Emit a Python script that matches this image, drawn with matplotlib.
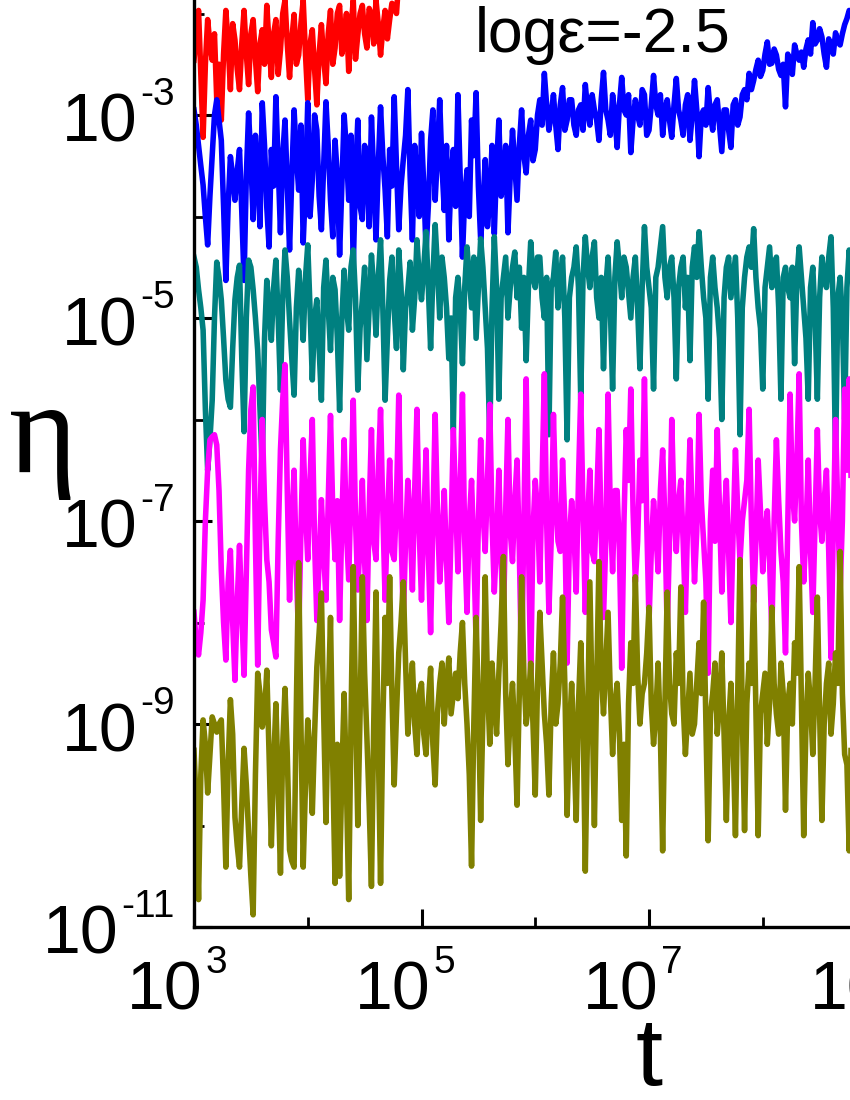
import numpy as np
import matplotlib.pyplot as plt
from matplotlib.ticker import FixedLocator, NullFormatter

plt.rcParams['font.family'] = ['Liberation Sans', 'DejaVu Sans']

# log10(t) sampling grid, one point every 0.02 decade
log_t = np.linspace(3.0, 8.92, 297)

# log10(eta), one list per curve
red = [-2.46, -2.20, -1.97, -2.60, -3.22, -2.50, -2.06, -2.30, -2.46, -2.20,
       -2.85, -2.50, -3.05, -2.40, -1.97, -2.30, -2.75, -2.10, -2.26, -2.55,
       -2.75, -2.30, -1.97, -2.40, -2.70, -2.20, -2.06, -2.45, -2.77, -2.30,
       -2.16, -2.50, -1.92, -2.30, -2.63, -2.20, -2.06, -2.60, -2.36, -2.00,
       -1.87, -2.30, -2.63, -2.25, -2.01, -2.50, -2.41, -2.10, -1.87, -2.40,
       -2.85, -2.30, -2.16, -2.55, -2.90, -2.40, -2.11, -2.45, -2.69, -2.20,
       -1.97, -2.50, -2.34, -2.00, -1.92, -2.40, -2.26, -2.00, -2.57, -2.15,
       -1.87, -2.45, -2.21, -2.00, -1.92, -2.20, -2.34, -1.95, -2.01, -2.30,
       -1.87, -2.10, -2.41, -2.15, -1.97, -2.25, -2.06, -1.90, -1.92, -2.00,
       -1.67, -1.60, -1.50]

blue = [-2.95, -3.10, -3.30, -3.50, -3.69, -4.00, -4.28, -3.80, -3.39, -3.00,
        -2.85, -3.05, -3.25, -3.90, -4.63, -3.90, -3.41, -3.60, -3.84, -3.55,
        -3.34, -3.95, -4.63, -3.60, -2.98, -3.45, -4.03, -3.20, -3.54, -4.10,
        -2.88, -3.30, -3.91, -4.30, -3.34, -3.70, -2.82, -3.50, -4.16, -3.40,
        -3.05, -3.70, -4.33, -3.60, -2.95, -3.40, -3.74, -3.10, -4.26, -3.70,
        -2.88, -4.00, -3.64, -3.00, -3.15, -3.80, -4.13, -3.50, -2.87, -3.30,
        -3.84, -4.20, -3.25, -3.60, -4.38, -3.70, -3.00, -3.35, -3.84, -3.20,
        -4.50, -3.60, -3.05, -3.90, -4.03, -3.30, -3.44, -4.10, -3.02, -3.60,
        -4.23, -3.50, -2.92, -3.40, -3.74, -4.20, -3.34, -3.70, -2.82, -3.50,
        -4.13, -3.70, -3.44, -3.20, -2.75, -3.60, -4.23, -3.30, -3.64, -4.00,
        -3.18, -3.70, -4.33, -3.90, -3.25, -2.95, -3.84, -3.40, -2.85, -3.50,
        -3.94, -3.30, -4.23, -3.60, -3.34, -3.90, -2.80, -3.60, -4.40, -3.80,
        -3.54, -4.00, -3.05, -3.40, -2.78, -3.70, -4.23, -3.90, -3.44, -4.10,
        -3.84, -3.30, -4.17, -3.50, -3.05, -3.80, -3.64, -3.30, -4.16, -3.60,
        -3.15, -3.50, -3.84, -3.30, -2.95, -3.40, -3.57, -3.20, -3.05, -3.45,
        -3.34, -3.00, -2.85, -3.10, -2.59, -2.90, -3.15, -3.00, -2.80, -3.10,
        -3.34, -2.90, -2.73, -3.15, -3.05, -2.85, -2.85, -3.10, -3.20, -2.95,
        -2.90, -3.15, -2.70, -2.95, -3.10, -2.80, -2.95, -3.05, -3.25, -2.85,
        -2.58, -2.95, -3.05, -3.20, -2.80, -3.00, -3.32, -2.90, -2.63, -2.95,
        -3.00, -2.80, -3.37, -3.05, -2.85, -3.00, -3.10, -2.75, -2.80, -3.20,
        -3.15, -2.90, -2.61, -2.90, -3.00, -2.80, -3.20, -2.95, -2.85, -3.05,
        -3.22, -2.90, -2.64, -2.95, -3.05, -3.20, -2.90, -2.80, -3.25, -3.00,
        -2.66, -2.95, -3.41, -3.00, -2.95, -3.10, -2.73, -3.00, -3.15, -2.90,
        -2.85, -3.10, -3.36, -2.95, -2.95, -3.15, -3.32, -2.90, -2.85, -3.10,
        -3.02, -2.80, -2.75, -2.85, -2.59, -2.75, -2.66, -2.55, -2.46, -2.62,
        -2.56, -2.40, -2.28, -2.50, -2.49, -2.35, -2.41, -2.55, -2.61, -2.50,
        -2.92, -2.40, -2.46, -2.60, -2.31, -2.40, -2.46, -2.38, -2.53, -2.35,
        -2.26, -2.40, -2.09, -2.30, -2.26, -2.15, -2.23, -2.40, -2.53, -2.25,
        -2.31, -2.40, -2.19, -2.28, -2.31, -2.20, -2.11, -2.05, -1.97, -2.02,
        -1.92, -1.95, -1.87, -1.85, -1.82, -1.83, -1.80]

teal = [-4.40, -4.50, -4.72, -4.90, -5.12, -5.90, -6.50, -6.20, -5.81, -5.00,
        -4.45, -4.60, -4.82, -5.20, -5.61, -5.80, -5.88, -5.30, -4.82, -4.60,
        -4.48, -5.40, -6.12, -5.00, -4.43, -4.50, -4.72, -5.00, -5.32, -5.90,
        -6.47, -5.20, -4.63, -4.90, -5.22, -4.70, -4.43, -5.00, -5.71, -4.80,
        -4.33, -4.60, -5.02, -5.40, -5.76, -4.90, -4.53, -4.80, -5.22, -4.60,
        -4.28, -4.90, -5.61, -5.00, -4.82, -5.30, -5.81, -4.70, -4.43, -4.90,
        -5.32, -4.60, -4.72, -5.20, -5.91, -5.00, -4.53, -4.90, -5.12, -4.50,
        -4.33, -4.80, -5.71, -5.10, -4.82, -4.50, -5.41, -4.90, -4.38, -4.70,
        -5.17, -4.60, -4.23, -4.90, -5.81, -5.20, -4.63, -4.40, -4.92, -5.30,
        -4.33, -4.70, -5.51, -4.90, -4.72, -4.45, -5.12, -4.80, -4.23, -4.60,
        -4.82, -4.50, -4.15, -4.70, -5.30, -4.60, -4.08, -4.50, -5.00, -4.40,
        -4.60, -4.90, -5.40, -5.00, -6.10, -4.80, -4.60, -4.90, -5.45, -4.70,
        -4.30, -4.60, -4.90, -4.40, -5.20, -4.70, -4.22, -4.50, -4.90, -5.30,
        -6.20, -4.90, -4.20, -4.70, -5.80, -4.80, -4.60, -4.40, -5.00, -4.70,
        -4.50, -4.35, -4.80, -4.50, -5.10, -4.60, -5.42, -4.70, -4.25, -4.60,
        -4.70, -4.40, -4.40, -4.80, -5.00, -4.60, -6.15, -4.70, -4.60, -4.35,
        -4.90, -4.60, -4.40, -5.00, -6.20, -4.80, -4.60, -4.50, -4.30, -4.70,
        -5.80, -4.60, -4.20, -4.50, -4.70, -4.40, -4.25, -4.80, -5.00, -4.60,
        -5.50, -4.70, -4.40, -4.90, -5.70, -4.60, -4.25, -4.50, -4.80, -4.40,
        -4.50, -4.75, -5.00, -4.60, -4.40, -4.90, -5.50, -4.70, -4.10, -4.50,
        -4.70, -4.90, -5.70, -4.60, -4.50, -4.30, -4.10, -4.60, -4.80, -4.50,
        -4.40, -4.80, -5.60, -4.70, -4.50, -4.40, -4.90, -4.60, -5.42, -4.50,
        -4.30, -4.60, -4.15, -4.50, -4.80, -5.00, -5.80, -4.60, -4.40, -4.70,
        -4.90, -5.20, -6.00, -4.80, -4.50, -4.40, -4.80, -4.60, -4.40, -5.00,
        -6.15, -4.90, -4.60, -4.40, -4.30, -4.50, -4.12, -4.60, -4.90, -5.10,
        -5.70, -4.70, -4.50, -4.30, -4.70, -4.50, -4.40, -4.90, -5.80, -4.60,
        -4.50, -4.70, -4.80, -4.50, -5.45, -4.60, -4.30, -4.60, -4.90, -5.20,
        -5.80, -4.70, -4.50, -5.00, -5.80, -4.80, -4.40, -4.60, -4.70, -4.40,
        -4.20, -4.90, -6.40, -4.80, -4.60, -5.00, -6.00, -4.70, -4.33, -4.60,
        -4.90, -4.50, -4.50, -4.80, -5.20, -4.70, -4.60]

magenta = [-7.90, -8.20, -8.32, -8.10, -7.78, -7.00, -6.50, -6.20, -6.17, -6.15,
           -6.25, -6.70, -7.48, -8.00, -8.37, -7.60, -7.29, -8.00, -8.57, -7.80,
           -7.24, -7.90, -8.52, -7.50, -6.50, -5.90, -5.68, -7.20, -8.42, -7.00,
           -6.00, -6.80, -7.38, -7.60, -8.07, -8.20, -8.34, -7.20, -6.30, -5.80,
           -5.46, -6.70, -7.78, -7.00, -6.50, -7.50, -8.17, -7.10, -6.20, -6.90,
           -7.38, -6.60, -6.00, -7.20, -7.98, -7.40, -6.79, -7.30, -7.78, -6.80,
           -5.96, -6.90, -7.38, -6.80, -7.98, -7.00, -6.20, -7.10, -7.58, -6.70,
           -5.81, -7.00, -7.68, -7.20, -6.60, -7.40, -7.98, -6.90, -6.10, -7.20,
           -7.38, -6.50, -5.90, -6.90, -7.78, -7.00, -6.40, -7.30, -7.38, -6.80,
           -5.76, -7.10, -7.98, -7.20, -6.60, -7.00, -7.68, -6.70, -5.90, -7.10,
           -7.78, -7.00, -6.30, -7.30, -8.10, -7.00, -5.95, -6.90, -7.60, -7.20,
           -6.70, -7.40, -8.00, -7.10, -6.10, -6.80, -7.50, -6.70, -5.75, -7.20,
           -7.90, -7.00, -6.60, -7.30, -8.20, -7.00, -6.20, -6.90, -7.30, -6.60,
           -5.85, -7.00, -7.70, -7.20, -6.50, -7.40, -8.00, -6.90, -6.00, -7.10,
           -7.40, -6.80, -6.40, -7.30, -8.50, -7.00, -5.60, -7.20, -8.55, -7.10,
           -6.60, -6.90, -7.60, -6.60, -5.55, -7.00, -7.90, -7.20, -5.95, -6.80,
           -7.20, -7.30, -6.40, -7.00, -8.40, -7.20, -6.80, -7.10, -7.70, -6.60,
           -5.75, -6.90, -7.90, -7.00, -6.50, -7.30, -7.40, -6.80, -6.10, -7.10,
           -7.95, -7.20, -5.75, -6.90, -7.50, -6.70, -6.70, -7.30, -8.45, -7.00,
           -6.10, -6.60, -5.70, -6.90, -7.60, -7.20, -6.40, -6.80, -5.60, -7.00,
           -8.00, -7.30, -6.80, -7.10, -7.50, -6.70, -6.30, -7.00, -8.10, -7.20,
           -6.00, -6.90, -7.30, -6.80, -6.60, -7.20, -7.90, -7.00, -6.20, -6.90,
           -7.60, -7.10, -5.95, -6.80, -7.20, -7.60, -8.50, -7.00, -6.50, -7.20,
           -6.10, -6.90, -7.70, -7.00, -6.60, -7.30, -8.00, -7.10, -6.30, -6.90,
           -7.40, -7.00, -6.80, -6.60, -5.90, -7.00, -7.80, -7.20, -6.40, -6.90,
           -7.50, -7.10, -6.90, -7.40, -8.10, -7.00, -6.20, -6.80, -7.30, -7.60,
           -8.30, -7.00, -5.75, -6.70, -7.00, -6.40, -5.55, -7.00, -7.60, -7.10,
           -6.40, -7.30, -7.90, -7.00, -6.10, -6.90, -7.20, -6.80, -6.50, -7.30,
           -8.35, -7.10, -6.00, -6.90, -7.70, -7.00, -5.70, -6.50, -5.60, -6.80,
           -7.40, -7.00, -6.20, -7.00, -7.60, -6.90, -6.50]

olive = [-9.26, -9.80, -10.73, -9.50, -8.96, -9.20, -9.68, -9.30, -8.93, -9.00,
         -9.08, -9.00, -8.96, -9.60, -10.41, -9.40, -8.76, -9.10, -9.92, -10.20,
         -10.41, -9.80, -9.24, -9.60, -10.07, -10.50, -10.88, -9.50, -8.50, -8.70,
         -9.03, -8.90, -8.47, -9.30, -10.20, -9.40, -8.80, -9.60, -10.47, -9.20,
         -8.65, -9.30, -10.24, -10.35, -10.41, -8.80, -7.41, -9.00, -10.41, -9.60,
         -8.96, -9.30, -9.88, -9.10, -8.44, -8.10, -7.71, -8.90, -9.97, -8.80,
         -7.95, -9.40, -10.57, -9.20, -10.50, -9.50, -8.70, -9.60, -10.73, -9.00,
         -7.45, -8.80, -10.00, -8.90, -7.55, -8.50, -9.13, -9.80, -10.60, -9.00,
         -7.70, -9.20, -10.57, -9.00, -7.95, -8.60, -7.55, -8.70, -9.60, -8.90,
         -8.30, -8.00, -7.60, -8.40, -9.10, -8.70, -8.40, -9.00, -9.30, -8.70,
         -8.60, -9.10, -9.30, -8.80, -8.45, -9.20, -9.60, -8.90, -8.60, -8.40,
         -9.00, -8.60, -8.35, -8.90, -8.70, -8.50, -8.75, -8.30, -8.00, -8.60,
         -9.00, -9.50, -10.40, -9.00, -7.95, -8.80, -9.95, -8.90, -7.55, -8.60,
         -9.20, -8.40, -8.80, -9.10, -8.50, -8.00, -7.35, -8.70, -9.40, -8.90,
         -8.60, -9.10, -9.80, -8.70, -7.55, -8.50, -9.00, -8.80, -8.40, -9.00,
         -9.70, -8.60, -7.90, -8.40, -8.90, -9.20, -9.70, -8.80, -8.30, -9.00,
         -8.80, -8.40, -7.75, -8.60, -9.90, -9.10, -8.60, -9.20, -9.95, -8.80,
         -8.20, -8.90, -10.45, -9.00, -7.60, -8.80, -10.00, -8.60, -7.40, -8.50,
         -8.90, -8.40, -7.90, -8.70, -9.30, -8.80, -8.60, -9.10, -9.95, -9.20,
         -10.30, -8.80, -8.20, -8.60, -7.55, -8.50, -9.00, -8.70, -8.60, -8.30,
         -7.85, -8.80, -9.20, -8.90, -8.40, -9.10, -10.25, -8.80, -7.70, -8.60,
         -8.90, -9.00, -8.30, -8.60, -7.65, -8.80, -9.30, -8.90, -8.50, -9.10,
         -9.00, -8.60, -8.20, -8.70, -7.80, -9.00, -10.15, -8.90, -8.70, -8.40,
         -9.10, -8.80, -8.30, -9.10, -9.95, -9.00, -8.60, -9.20, -10.10, -8.70,
         -7.38, -8.90, -10.05, -8.80, -8.40, -8.60, -7.65, -8.90, -10.10, -8.90,
         -8.70, -8.50, -9.20, -8.80, -7.85, -8.60, -8.90, -9.10, -8.40, -8.70,
         -9.85, -8.80, -8.60, -9.00, -8.20, -8.50, -7.45, -8.80, -10.10, -9.00,
         -8.50, -8.80, -9.30, -8.60, -7.75, -8.90, -9.95, -9.00, -8.60, -8.40,
         -9.10, -8.80, -8.30, -8.60, -7.30, -8.70, -9.30, -9.40, -10.25, -9.00,
         -7.80, -8.50, -8.80, -8.50, -9.00, -8.70, -8.50]

series = [
    (red, '#ff0000'),
    (blue, '#0000ff'),
    (teal, '#008080'),
    (magenta, '#ff00ff'),
    (olive, '#808000'),
]

x_exps = [3, 5, 7, 9]
y_exps = [-11, -9, -7, -5, -3]

PX = 0.72  # points per pixel at dpi 100

fig = plt.figure(figsize=(8.5, 11), dpi=100)
# the panel is cropped: axes run past the right and top edges of the figure
ax = fig.add_axes([194 / 850, 173 / 1100, 910 / 850, 1015 / 1100])

for vals, col in series:
    t = 10 ** log_t[:len(vals)]
    ax.plot(t, 10 ** np.array(vals), color=col, lw=4.0)

ax.set_xscale('log')
ax.set_yscale('log')
ax.set_xlim(1e3, 1e11)
ax.set_ylim(1e-11, 1e-1)

ax.xaxis.set_major_locator(FixedLocator(10.0 ** np.arange(3, 12, 2)))
ax.xaxis.set_minor_locator(FixedLocator(10.0 ** np.arange(4, 12, 2)))
ax.yaxis.set_major_locator(FixedLocator(10.0 ** np.arange(-11, 0, 2)))
ax.yaxis.set_minor_locator(FixedLocator(10.0 ** np.arange(-10, 0, 2)))
for axis in (ax.xaxis, ax.yaxis):
    axis.set_major_formatter(NullFormatter())
    axis.set_minor_formatter(NullFormatter())

ax.tick_params(which='major', direction='in', length=13, width=2.2)
ax.tick_params(which='minor', direction='in', length=7, width=2.0)
ax.set_axisbelow(True)
for s in ax.spines.values():
    s.set_linewidth(2.4)

# tick labels as "10" with a small raised exponent (hyphen, not minus)
for e in x_exps:
    ax.annotate('10', xy=(10.0 ** e, 0), xycoords=('data', 'axes fraction'),
                xytext=(9 * PX, -83 * PX), textcoords='offset points',
                ha='right', va='baseline', fontsize=49, annotation_clip=False)
    ax.annotate(str(e), xy=(10.0 ** e, 0), xycoords=('data', 'axes fraction'),
                xytext=(12 * PX, -46 * PX), textcoords='offset points',
                ha='left', va='baseline', fontsize=28, annotation_clip=False)

for e in y_exps:
    ex = ax.annotate('-%d' % abs(e), xy=(0, 10.0 ** e),
                     xycoords=('axes fraction', 'data'),
                     xytext=(-19 * PX, 10 * PX), textcoords='offset points',
                     ha='right', va='baseline', fontsize=28, annotation_clip=False)
    ax.annotate('10', xy=(0, 10.0 ** e), xycoords=(ex, 'data'),
                xytext=(-3 * PX, -27 * PX), textcoords='offset points',
                ha='right', va='baseline', fontsize=49, annotation_clip=False)

ax.set_xlabel('t', fontsize=70)
ax.xaxis.set_label_coords(0.5, (927 - 1085) / 1015)
ax.xaxis.label.set_va('baseline')

ax.set_ylabel('η', fontsize=94, family=['Liberation Serif', 'DejaVu Serif'],
              rotation=0, ha='center', va='center')
ax.yaxis.set_label_coords((43 - 194) / 910, (927 - 440) / 1015)

fig.text(475 / 850, 1 - 52 / 1100, 'logε=-2.5', fontsize=45,
         ha='left', va='baseline')

fig.savefig('out.png', dpi=100)
